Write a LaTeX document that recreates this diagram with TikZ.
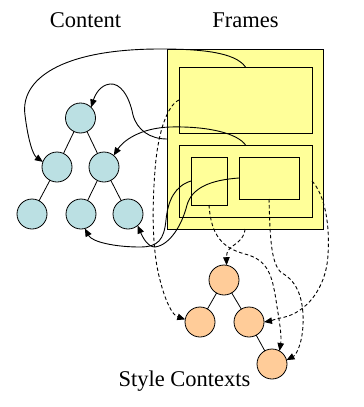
\documentclass[tikz,border=0pt]{standalone}
\usepackage{fontspec}
\setmainfont{Liberation Serif}
\usetikzlibrary{arrows.meta}
\definecolor{frameyellow}{HTML}{FFFF99}
\definecolor{contentblue}{HTML}{BBE0E3}
\definecolor{styleorange}{HTML}{FFCC99}
\tikzset{
  framebox/.style={draw=black, line width=1pt, inner sep=0pt, outer sep=0pt, rectangle},
  cnode/.style={circle, draw=black, line width=0.8pt, fill=contentblue, minimum size=30pt, inner sep=0pt, outer sep=0pt},
  snode/.style={circle, draw=black, line width=0.8pt, fill=styleorange, minimum size=30pt, inner sep=0pt, outer sep=0pt},
  treeedge/.style={line width=0.8pt},
  conn/.style={line width=0.9pt, -{Triangle[length=8pt,width=6.5pt]}},
  dconn/.style={conn, dash pattern=on 3.5pt off 2.5pt},
  title/.style={anchor=base, inner sep=0pt, font=\fontsize{22.5}{27}\selectfont}
}
\begin{document}
\begin{tikzpicture}[x=1pt,y=-1pt]
\useasboundingbox (0,0) rectangle (364,407);
% titles
\node[title] (tcontent) at (85.5,27) {Content};
\node[title] (tframes) at (245.5,27) {Frames};
\node[title] (tstyle) at (184.5,386) {Style Contexts};
% frames
\node[framebox, fill=frameyellow, minimum width=156pt, minimum height=180pt] (outer) at (245,139) {};
\node[framebox, minimum width=133pt, minimum height=66pt] (top) at (245.5,100) {};
\node[framebox, minimum width=133pt, minimum height=72pt] (bot) at (245.5,181) {};
\node[framebox, minimum width=36pt, minimum height=48pt] (sl) at (209,181) {};
\node[framebox, minimum width=60pt, minimum height=42pt] (rb) at (269,178) {};
% content tree
\node[cnode] (b1) at (80.5,118) {};
\node[cnode] (b2) at (57,167) {};
\node[cnode] (b3) at (104,167) {};
\node[cnode] (b4) at (32,214) {};
\node[cnode] (b5) at (81,214) {};
\node[cnode] (b6) at (128,214) {};
\draw[treeedge] (b1) -- (b2);
\draw[treeedge] (b1) -- (b3);
\draw[treeedge] (b2) -- (b4);
\draw[treeedge] (b3) -- (b5);
\draw[treeedge] (b3) -- (b6);
% style context tree
\node[snode] (o1) at (224,280) {};
\node[snode] (o2) at (200,322) {};
\node[snode] (o3) at (249,322) {};
\node[snode] (o4) at (272,364) {};
\draw[treeedge] (o1) -- (o2);
\draw[treeedge] (o1) -- (o3);
\draw[treeedge] (o3) -- (o4);
% solid connectors: frames -> content
\draw[conn] (top.north) .. controls (235,52) and (200,49) .. (160,49)
  .. controls (60,49) and (20,80) .. (25,115)
  .. controls (28,140) and (33,155) .. (b2.160);
\draw[conn] (bot.north) .. controls (238,134) and (210,126) .. (170,127)
  .. controls (140,128) and (123,141) .. (b3.50);
\draw[conn] (outer.west) .. controls (150,139) and (137,130) .. (133,115)
  .. controls (129,95) and (120,83) .. (110,84)
  .. controls (100,85) and (95,95) .. (b1.45);
\draw[conn] (sl.west) .. controls (175,186) and (168,200) .. (166,220)
  .. controls (164,240) and (158,247) .. (140,247)
  .. controls (115,247) and (92,242) .. (b5.-75);
\draw[conn] (rb.west) .. controls (210,180) and (192,188) .. (187,205)
  .. controls (182,225) and (170,245) .. (155,247)
  .. controls (148,247) and (143,238) .. (b6.-50);
% dashed connectors: frames -> style contexts
\draw[dconn] (top.west) .. controls (168,105) and (158,130) .. (155,170)
  .. controls (152,210) and (152,250) .. (160,280)
  .. controls (165,300) and (172,315) .. (o2.170);
\draw[dconn] (outer.south) .. controls (244,245) and (226,244) .. (o1.80);
\draw[dconn] (sl.south) .. controls (211,235) and (222,248) .. (245,254)
  .. controls (268,260) and (272,275) .. (276,300)
  .. controls (279,320) and (282,335) .. (o4.60);
\draw[dconn] (rb.south) .. controls (270,230) and (270,265) .. (282,273)
  .. controls (298,282) and (304,300) .. (303,325)
  .. controls (302,345) and (296,355) .. (o4.15);
\draw[dconn] (bot.east) .. controls (325,195) and (330,225) .. (328,255)
  .. controls (326,290) and (305,312) .. (285,317)
  .. controls (275,319) and (270,321) .. (o3.0);
\end{tikzpicture}
\end{document}
